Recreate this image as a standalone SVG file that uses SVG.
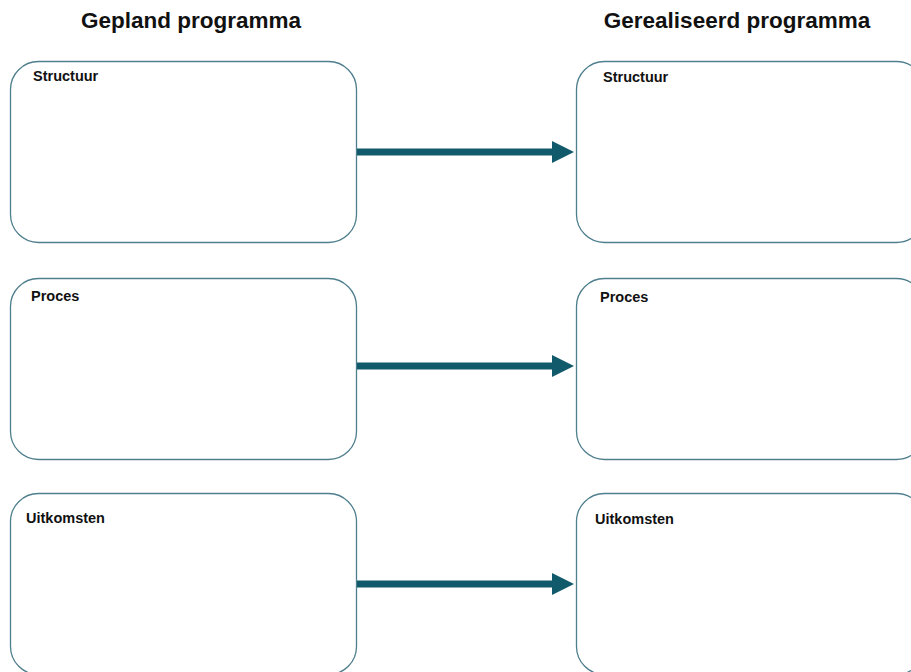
<svg xmlns="http://www.w3.org/2000/svg" width="911" height="672" viewBox="0 0 911 672">
<defs>
<style>
.box{fill:#ffffff;stroke:#4f7f8d;stroke-width:1.3}
.title{font-family:"Liberation Sans",Arial,sans-serif;font-weight:bold;font-size:22.5px;fill:#111;text-anchor:middle}
.lbl{font-family:"Liberation Sans",Arial,sans-serif;font-weight:bold;font-size:14.5px;fill:#111}
.shaft{stroke:#115a6c;stroke-width:7;fill:none}
.head{fill:#115a6c}
</style>
</defs>
<rect width="911" height="672" fill="#ffffff"/>
<text class="title" x="191" y="28">Gepland programma</text>
<text class="title" x="737" y="28">Gerealiseerd programma</text>
<g id="gepland-structuur"><rect class="box" x="10.5" y="61.5" width="346" height="181" rx="28" ry="28"/><text class="lbl" x="33" y="81">Structuur</text></g>
<g id="gepland-proces"><rect class="box" x="10.5" y="278.5" width="346" height="181" rx="28" ry="28"/><text class="lbl" x="31" y="301">Proces</text></g>
<g id="gepland-uitkomsten"><rect class="box" x="10.5" y="493.5" width="346" height="181" rx="28" ry="28"/><text class="lbl" x="26" y="523">Uitkomsten</text></g>
<g id="gerealiseerd-structuur"><rect class="box" x="576.5" y="61.5" width="348" height="181" rx="28" ry="28"/><text class="lbl" x="603" y="82">Structuur</text></g>
<g id="gerealiseerd-proces"><rect class="box" x="576.5" y="278.5" width="348" height="181" rx="28" ry="28"/><text class="lbl" x="600" y="302">Proces</text></g>
<g id="gerealiseerd-uitkomsten"><rect class="box" x="576.5" y="493.5" width="348" height="181" rx="28" ry="28"/><text class="lbl" x="595" y="524">Uitkomsten</text></g>
<g id="connectors">
<line class="shaft" x1="357" y1="152" x2="554" y2="152"/><polygon class="head" points="552,141 574,152 552,163"/>
<line class="shaft" x1="357" y1="366" x2="554" y2="366"/><polygon class="head" points="552,355 574,366 552,377"/>
<line class="shaft" x1="357" y1="584" x2="554" y2="584"/><polygon class="head" points="552,573 574,584 552,595"/>
</g>
</svg>
